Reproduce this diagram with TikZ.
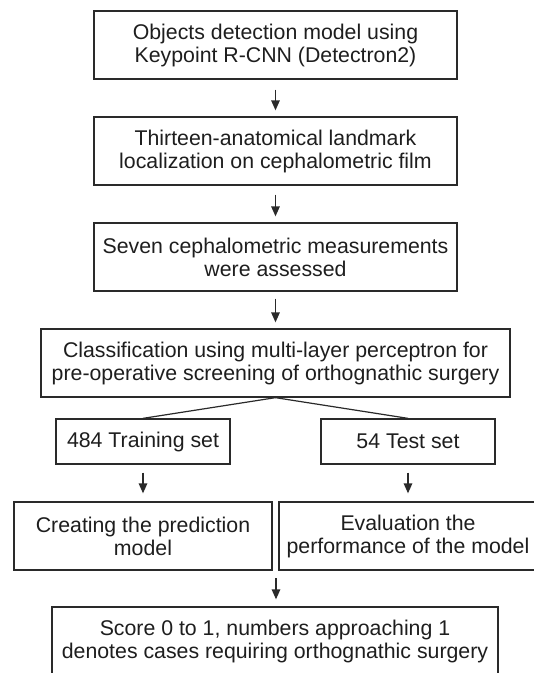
\documentclass[tikz,border=0pt]{standalone}
\usepackage{fontspec}
\setmainfont{Liberation Sans}
\usetikzlibrary{arrows.meta}
\definecolor{linegray}{HTML}{2A2A2A}
\definecolor{textgray}{HTML}{1E1E1E}
\begin{document}
\begin{tikzpicture}[x=1pt,y=-1pt,
  box/.style={draw=linegray, line width=1.3pt, align=center, inner sep=0pt,
    text=textgray, font=\fontsize{21.3}{23}\selectfont},
  arr/.style={draw=linegray, line width=1.3pt, -{Triangle[length=10pt,width=8.5pt]}},
  conn/.style={draw=linegray, line width=1.2pt}]
\useasboundingbox (0,0) rectangle (534,673);
\clip (0,0) rectangle (534,673);
\fill[white] (0,0) rectangle (534,673);

\node[box, minimum width=363pt, minimum height=68pt] (b1) at (275.5,45)
  {Objects detection model using\\Keypoint R-CNN (Detectron2)};
\node[box, minimum width=363pt, minimum height=68pt] (b2) at (275.5,151)
  {Thirteen-anatomical landmark\\localization on cephalometric film};
\node[box, minimum width=363pt, minimum height=68pt] (b3) at (275.5,257)
  {Seven cephalometric measurements\\were assessed};
\node[box, minimum width=469pt, minimum height=68pt] (b4) at (275.5,363)
  {Classification using multi-layer perceptron for\\pre-operative screening of orthognathic surgery};
\node[box, minimum width=174pt, minimum height=45pt] (b5) at (143,441.5)
  {484 Training set};
\node[box, minimum width=174pt, minimum height=45pt] (b6) at (408,441.5)
  {54 Test set};
\node[box, minimum width=258pt, minimum height=68pt] (b7) at (143,536)
  {Creating the prediction\\model};
\node[box, minimum width=258pt, minimum height=68pt] (b8) at (408,536)
  {Evaluation the\\performance of the model};
\node[box, minimum width=446pt, minimum height=68pt] (b9) at (275,641)
  {Score 0 to 1, numbers approaching 1\\denotes cases requiring orthognathic surgery};

\draw[arr, shorten <=10pt, shorten >=6pt] (b1) -- (b2);
\draw[arr, shorten <=9pt, shorten >=6pt] (b2) -- (b3);
\draw[arr, shorten <=7pt, shorten >=6pt] (b3) -- (b4);
\draw[conn] (b4.south) -- (b5.north);
\draw[conn] (b4.south) -- (b6.north);
\draw[arr, shorten <=8pt, shorten >=8pt] (b5.south) -- (b5.south |- b7.north);
\draw[arr, shorten <=8pt, shorten >=8pt] (b6.south) -- (b6.south |- b8.north);
\coordinate (m) at (276,570);
\draw[arr, shorten <=8pt, shorten >=7pt] (m) -- (m |- b9.north);
\end{tikzpicture}
\end{document}
